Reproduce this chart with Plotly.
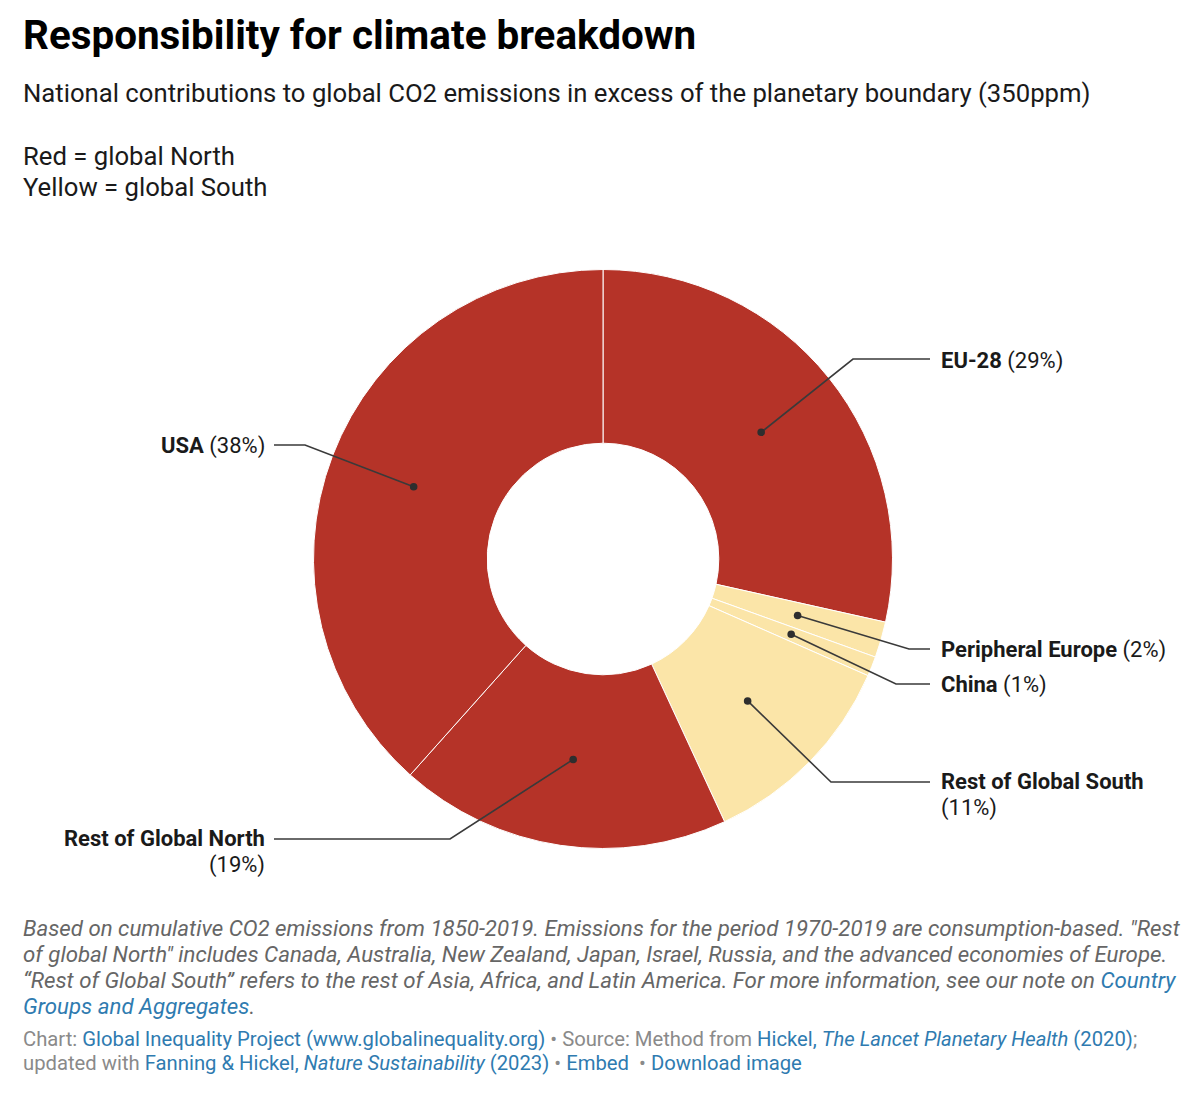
import math
import plotly.graph_objects as go

W, H = 1200, 1095

regions = ['EU-28', 'Peripheral Europe', 'China', 'Rest of Global South', 'Rest of Global North', 'USA']
shares = [28.5, 2.0, 1.1, 11.5, 18.5, 38.4]
shown_pct = ['29%', '2%', '1%', '11%', '19%', '38%']
colors = ['#b53328', '#fbe5a8', '#fbe5a8', '#fbe5a8', '#b53328', '#b53328']

# pie geometry in pixels
CX, CY, R = 603, 559, 289.5
HOLE = 0.4

# elbow and end of each leader line
elbows = [(853, 359), (909, 649), (896, 684), (831, 782), (450, 839), (305, 445)]
line_ends = [(930, 359), (930, 649), (930, 684), (930, 782), (274, 839), (274, 445)]
label_y = [360.5, 650, 685, 781.5, 838.5, 446]

LINK = '#2f7bb0'
FONT = 'Roboto'


def px(x):
    return x / W


def py(y):
    return 1 - y / H


def link(s):
    return f'<span style="color:{LINK}">{s}</span>'


fig = go.Figure(go.Pie(
    labels=regions,
    values=shares,
    sort=False,
    direction='clockwise',
    rotation=0,
    hole=HOLE,
    marker={'colors': colors, 'line': {'color': 'white', 'width': 1}},
    textinfo='none',
    hoverinfo='label+percent',
    showlegend=False,
    domain={'x': [px(CX - R), px(CX + R)], 'y': [py(CY + R), py(CY - R)]},
))

shapes = []
annotations = []


def add_label(text, x, y, left):
    annotations.append({
        'text': text, 'x': px(x), 'y': py(y),
        'xanchor': 'left' if left else 'right', 'yanchor': 'middle',
        'align': 'left' if left else 'right',
        'showarrow': False, 'borderpad': 0,
        'font': {'size': 22, 'color': '#1a1a1a', 'family': FONT},
    })


mid_r = R * (1 + HOLE) / 2
cum = 0
for i, name in enumerate(regions):
    # leader starts at the middle of the slice
    ang = (cum + shares[i] / 2) / sum(shares) * 2 * math.pi
    cum += shares[i]
    dx, dy = CX + mid_r * math.sin(ang), CY - mid_r * math.cos(ang)
    (ex, ey), (lx, ly) = elbows[i], line_ends[i]
    shapes.append({
        'type': 'path', 'xref': 'paper', 'yref': 'paper',
        'path': f'M {px(dx)} {py(dy)} L {px(ex)} {py(ey)} L {px(lx)} {py(ly)}',
        'line': {'color': '#3a3a3a', 'width': 1.6},
    })
    shapes.append({
        'type': 'circle', 'xref': 'paper', 'yref': 'paper',
        'x0': px(dx - 3.8), 'x1': px(dx + 3.8), 'y0': py(dy + 3.8), 'y1': py(dy - 3.8),
        'fillcolor': '#2e2e2e', 'line': {'width': 0},
    })
    left = lx > CX
    tx = 939.5 if left else 266
    # long names wrap the percentage on to a second line
    if name.startswith('Rest of'):
        add_label(f'<b>{name}</b>', tx, label_y[i], left)
        add_label(f'({shown_pct[i]})', tx, label_y[i] + 26, left)
    else:
        add_label(f'<b>{name}</b> ({shown_pct[i]})', tx, label_y[i], left)


def add_text(text, y, size, color='#1a1a1a', x=22):
    annotations.append({
        'text': text, 'x': px(x), 'y': py(y), 'xanchor': 'left', 'yanchor': 'middle',
        'align': 'left', 'showarrow': False, 'borderpad': 0,
        'font': {'size': size, 'color': color, 'family': FONT},
    })


add_text('<b>Responsibility for climate breakdown</b>', 36, 40.4, '#000000')
add_text('National contributions to global CO2 emissions in excess of the planetary boundary (350ppm)', 93, 25.7)
add_text('Red = global North', 156, 25.7)
add_text('Yellow = global South', 187, 25.7)

NOTE = '#666666'
add_text('<i>Based on cumulative CO2 emissions from 1850-2019. Emissions for the period 1970-2019 are consumption-based. "Rest</i>', 928, 22.25, NOTE)
add_text('<i>of global North" includes Canada, Australia, New Zealand, Japan, Israel, Russia, and the advanced economies of Europe.</i>', 954, 22.25, NOTE)
add_text('<i>“Rest of Global South” refers to the rest of Asia, Africa, and Latin America. For more information, see our note on </i>'
         + link('<i>Country</i>'), 980, 22.25, NOTE)
add_text(link('<i>Groups and Aggregates</i>') + '<i>.</i>', 1006, 22.25, NOTE)

SRC = '#8a8a8a'
add_text('Chart: ' + link('Global Inequality Project (www.globalinequality.org)') + ' • Source: Method from '
         + link('Hickel, <i>The Lancet Planetary Health</i> (2020)') + ';', 1039, 20.25, SRC)
add_text('updated with ' + link('Fanning &amp; Hickel, <i>Nature Sustainability</i> (2023)') + ' • ' + link('Embed')
         + '  • ' + link('Download image'), 1063, 20.25, SRC)

fig.update_layout(
    width=W, height=H,
    margin={'l': 0, 'r': 0, 't': 0, 'b': 0},
    paper_bgcolor='white',
    plot_bgcolor='white',
    shapes=shapes,
    annotations=annotations,
    font={'family': FONT},
)

# page margin would push the figure 8px off
fig.write_html("out.html", config={'displayModeBar': False},
               post_script="document.body.style.margin='0';")
